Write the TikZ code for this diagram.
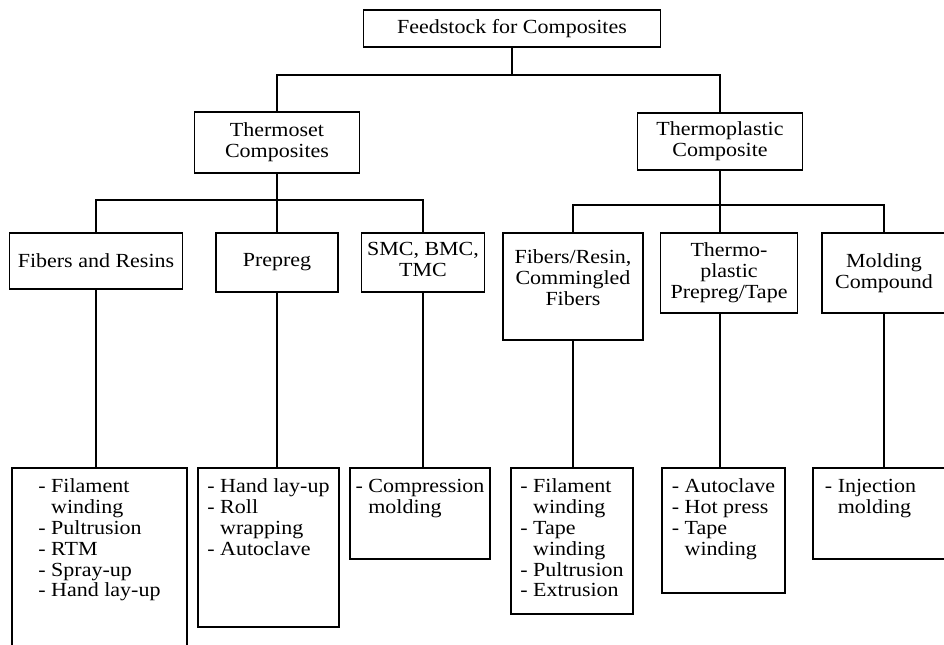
\documentclass[tikz,border=0pt]{standalone}
\usepackage{fontspec}
\setmainfont{Liberation Serif}[FakeStretch=1.1]
\usetikzlibrary{positioning}
\tikzstyle{box}=[draw,rectangle,inner sep=2pt,align=center]
\tikzstyle{list}=[align=left,inner sep=0pt,anchor=north,yshift=-5.5pt]
\tikzstyle{every node}=[font=\fontsize{10pt}{10.4pt}\selectfont]
\newcommand{\ind}{\hphantom{- }}
\newcommand{\lowpad}[1]{\rule[-#1]{0pt}{0pt}}

\begin{document}
\begin{tikzpicture}[x=0.5pt,y=-0.5pt,line width=0.7pt]
    \clip (0,0) rectangle (944,644);
    \node[box, minimum width=148.5pt, minimum height=18.5pt] (root) at (512,28.5) {Feedstock for Composites};
    \node[box, minimum width=82.5pt, minimum height=30.5pt] (ts) at (277,142.5) {Thermoset\\Composites};
    \node[box, minimum width=82.5pt, minimum height=28.5pt] (tc) at (720,141.5) {Thermoplastic\\Composite};
    % thermoset branch
    \node[box, minimum width=86.5pt, minimum height=28pt] (fr) at (96,261) {Fibers and Resins};
    \node[box, minimum width=61pt, minimum height=29.5pt] (pp) at (277,262.5) {Prepreg};
    \node[box, minimum width=61.5pt, minimum height=29.5pt] (smc) at (423,262.5) {SMC, BMC,\\TMC\lowpad{3pt}};
    % thermoplastic branch
    \node[box, minimum width=70pt, minimum height=53.5pt] (fc) at (573,286.5) {Fibers/Resin,\\Commingled\\Fibers\lowpad{9pt}};
    \node[box, minimum width=68.5pt, minimum height=40pt] (tp) at (729,273) {Thermo-\\plastic\\Prepreg/Tape};
    \node[box, minimum width=62pt, minimum height=40pt] (mc) at (884,273) {Molding\\Compound};
    % processes
    \node[box, minimum width=87.5pt, minimum height=96pt] (b1) at (99.5,564) {};
    \node[box, minimum width=70.5pt, minimum height=79.5pt] (b2) at (268.5,547.5) {};
    \node[box, minimum width=70pt, minimum height=45.5pt] (b3) at (420,513.5) {};
    \node[box, minimum width=61pt, minimum height=73pt] (b4) at (572,541) {};
    \node[box, minimum width=61.5pt, minimum height=62.5pt] (b5) at (723.5,530.5) {};
    \node[box, minimum width=68.5pt, minimum height=45.5pt] (b6) at (881.5,513.5) {};
    \node[list] (l1) at (b1.north) {- Filament\\\ind winding\\- Pultrusion\\- RTM\\- Spray-up\\- Hand lay-up};
    \node[list] (l2) at (b2.north) {- Hand lay-up\\- Roll\\\ind wrapping\\- Autoclave};
    \node[list] (l3) at (b3.north) {- Compression\\\ind molding};
    \node[list] (l4) at (b4.north) {- Filament\\\ind winding\\- Tape\\\ind winding\\- Pultrusion\\- Extrusion};
    \node[list] (l5) at (b5.north) {- Autoclave\\- Hot press\\- Tape\\\ind winding};
    \node[list, xshift=-5.5pt] (l6) at (b6.north) {- Injection\\\ind molding};
    % tree
    \coordinate (j0) at (512,75);
    \coordinate (j1) at (277,200);
    \coordinate (j2) at (720,205);
    \draw (root) -- (j0);
    \draw (j0) -| (ts);
    \draw (j0) -| (tc);
    \draw (ts) -- (pp);
    \draw (j1) -| (fr);
    \draw (j1) -| (smc);
    \draw (tc) -- (tc |- tp.north);
    \draw (j2) -| (fc);
    \draw (j2) -| (mc);
    \draw (fr) -- (fr |- b1.north);
    \draw (pp) -- (pp |- b2.north);
    \draw (smc) -- (smc |- b3.north);
    \draw (fc) -- (fc |- b4.north);
    \draw (tc |- tp.south) -- (tc |- b5.north);
    \draw (mc) -- (mc |- b6.north);
\end{tikzpicture}
\end{document}
